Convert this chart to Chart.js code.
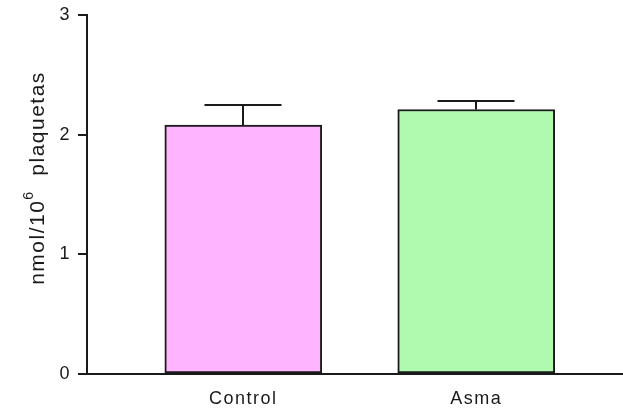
<!DOCTYPE html>
<html>
<head>
<meta charset="utf-8">
<script src="https://cdn.jsdelivr.net/npm/chart.js@4.4.1/dist/chart.umd.min.js"></script>
<style>
  html, body { margin: 0; padding: 0; background: #ffffff; }
  #wrap { width: 623px; height: 411px; position: relative; }
</style>
</head>
<body>
<div id="wrap"><canvas id="chart"></canvas></div>
<script>
// Platelet content per group: mean and SEM
const categories = ['Control', 'Asma'];
const means = [2.08, 2.21];
const sem = [0.17, 0.07];
const yTicks = [0, 1, 2, 3];
const barColors = ['#FFB4FF', '#AFFAAF'];
const yTitleParts = ['nmol/10', '6', '  plaquetas'];

const INK = '#1a1a1a';
const FONT = '"Liberation Sans", Arial, sans-serif';
const SPACING = '1.5px';

// Wide letter spacing for all canvas text (context state is reset on resize)
const spacing = {
  id: 'spacing',
  beforeUpdate(chart) { chart.ctx.letterSpacing = SPACING; },
  beforeLayout(chart) { chart.ctx.letterSpacing = SPACING; },
  beforeDraw(chart) { chart.ctx.letterSpacing = SPACING; }
};

// Vertical SEM whiskers above each bar
const errorBars = {
  id: 'errorBars',
  afterDatasetsDraw(chart) {
    const { ctx, scales: { x, y } } = chart;
    const half = 38.5;
    ctx.save();
    ctx.strokeStyle = INK;
    ctx.lineWidth = 2;
    means.forEach((m, i) => {
      const px = Math.round(x.getPixelForValue(i));
      const y0 = y.getPixelForValue(m);
      const y1 = Math.round(y.getPixelForValue(m + sem[i]));
      ctx.beginPath();
      ctx.moveTo(px, y0);
      ctx.lineTo(px, y1);
      ctx.moveTo(px - half, y1);
      ctx.lineTo(px + half, y1);
      ctx.stroke();
    });
    ctx.restore();
  }
};

// Rotated y-axis title with a superscript exponent
const yTitle = {
  id: 'yTitle',
  afterDraw(chart) {
    const { ctx } = chart;
    const big = '21px ' + FONT;
    const small = '14px ' + FONT;
    ctx.save();
    ctx.letterSpacing = SPACING;
    ctx.fillStyle = INK;
    ctx.font = big;
    const w0 = ctx.measureText(yTitleParts[0]).width;
    const w2 = ctx.measureText(yTitleParts[2]).width;
    ctx.font = small;
    const w1 = ctx.measureText(yTitleParts[1]).width;
    const total = w0 + w1 + w2;
    ctx.translate(44, 178);
    ctx.rotate(-Math.PI / 2);
    ctx.textBaseline = 'alphabetic';
    ctx.textAlign = 'left';
    let cx = -total / 2;
    ctx.font = big;
    ctx.fillText(yTitleParts[0], cx, 0);
    cx += w0;
    ctx.font = small;
    ctx.fillText(yTitleParts[1], cx, -11);
    cx += w1;
    ctx.font = big;
    ctx.fillText(yTitleParts[2], cx, 0);
    ctx.restore();
  }
};

new Chart(document.getElementById('chart'), {
  type: 'bar',
  data: {
    datasets: [{
      data: means.map((v, i) => ({ x: i, y: v })),
      backgroundColor: barColors,
      borderColor: INK,
      borderWidth: 2,
      borderSkipped: false,
      barThickness: 157
    }]
  },
  options: {
    responsive: true,
    maintainAspectRatio: false,
    animation: false,
    layout: { padding: { top: 15, right: 0, left: 0, bottom: 0 } },
    plugins: { legend: { display: false }, tooltip: { enabled: false } },
    scales: {
      x: {
        type: 'linear',
        min: -0.671,
        max: 1.63,
        offset: false,
        z: 1,
        grid: { display: false, offset: false },
        border: { display: true, color: INK, width: 2 },
        afterBuildTicks(scale) { scale.ticks = categories.map((_, i) => ({ value: i })); },
        afterFit(scale) {
          scale.height = 37;
          scale.paddingLeft = 0;
          scale.paddingRight = 0;
        },
        ticks: {
          autoSkip: false,
          maxRotation: 0,
          padding: 6,
          color: INK,
          font: { family: FONT, size: 18 },
          callback: (v) => categories[v]
        }
      },
      y: {
        min: 0,
        max: 3,
        z: 1,
        grid: { display: true, drawOnChartArea: false, drawTicks: true, tickLength: 9, color: INK, lineWidth: 2 },
        border: { display: true, color: INK, width: 2 },
        afterBuildTicks(scale) { scale.ticks = yTicks.map(v => ({ value: v })); },
        afterFit(scale) {
          scale.width = 87;
          scale.paddingTop = 0;
          scale.paddingBottom = 0;
        },
        ticks: {
          padding: 7,
          color: INK,
          font: { family: FONT, size: 18 }
        }
      }
    }
  },
  plugins: [spacing, errorBars, yTitle]
});
</script>
</body>
</html>
